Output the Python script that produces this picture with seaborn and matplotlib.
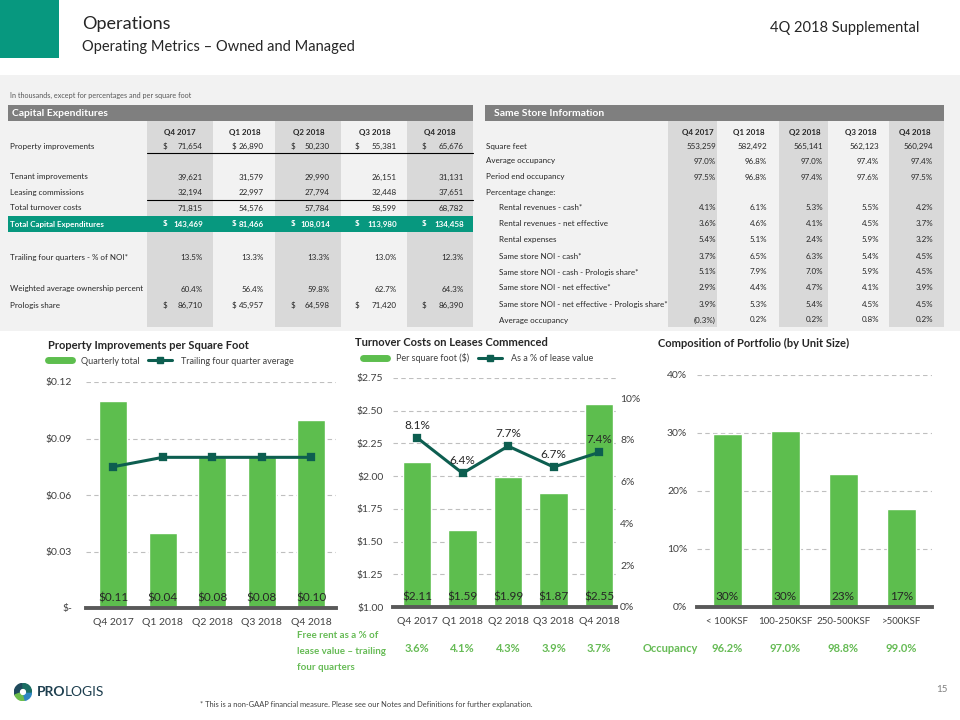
import numpy as np
import pandas as pd
import matplotlib
matplotlib.use("Agg")
import matplotlib.pyplot as plt
import seaborn as sns
from matplotlib.patches import Rectangle, Wedge
from matplotlib.lines import Line2D
import matplotlib.transforms as mtransforms

# ---------------- data ----------------
quarters = ["Q4 2017", "Q1 2018", "Q2 2018", "Q3 2018", "Q4 2018"]

# Capital expenditures table
property_improvements = [71654, 26890, 50230, 55381, 65676]
tenant_improvements = [39621, 31579, 29990, 26151, 31131]
leasing_commissions = [32194, 22997, 27794, 32448, 37651]
total_turnover_costs = [71815, 54576, 57784, 58599, 68782]
total_capex = [143469, 81466, 108014, 113980, 134458]
trailing_noi_pct = [13.5, 13.3, 13.3, 13.0, 12.3]
weighted_ownership_pct = [60.4, 56.4, 59.8, 62.7, 64.3]
prologis_share = [86710, 45957, 64598, 71420, 86390]

# Same store table
square_feet = [553259, 582492, 565141, 562123, 560294]
average_occupancy = [97.0, 96.8, 97.0, 97.4, 97.4]
period_end_occupancy = [97.5, 96.8, 97.4, 97.6, 97.5]
rental_revenues_cash = [4.1, 6.1, 5.3, 5.5, 4.2]
rental_revenues_net = [3.6, 4.6, 4.1, 4.5, 3.7]
rental_expenses = [5.4, 5.1, 2.4, 5.9, 3.2]
noi_cash = [3.7, 6.5, 6.3, 5.4, 4.5]
noi_cash_share = [5.1, 7.9, 7.0, 5.9, 4.5]
noi_net = [2.9, 4.4, 4.7, 4.1, 3.9]
noi_net_share = [3.9, 5.3, 5.4, 4.5, 4.5]
avg_occupancy_change = [-0.3, 0.2, 0.2, 0.8, 0.2]

# Charts
pi_per_sf = [0.11, 0.04, 0.08, 0.08, 0.10]
pi_trailing_avg = [0.075, 0.08, 0.08, 0.08, 0.08]
turnover_per_sf = [2.11, 1.59, 1.99, 1.87, 2.55]
turnover_pct_lease = [8.1, 6.4, 7.7, 6.7, 7.4]
free_rent_pct = [3.6, 4.1, 4.3, 3.9, 3.7]
unit_sizes = ["< 100KSF", "100-250KSF", "250-500KSF", ">500KSF"]
unit_share = [29.9, 30.3, 22.9, 16.9]
unit_occupancy = [96.2, 97.0, 98.8, 99.0]

# ---------------- style ----------------
sns.set_theme(style="white")
plt.rcParams["font.family"] = ["Lato", "DejaVu Sans"]

TEAL = "#07987F"
GREEN = "#5DBE4E"
DARK = "#0D5E50"
TXT_GREEN = "#66BB55"
TXT = "#262626"
TS = 5.8  # table font size

W, H = 960, 720
fig = plt.figure(figsize=(9.6, 7.2), dpi=100)
fig.patch.set_facecolor("white")


def fx(x):
    return x / W


def fy(y):
    return 1 - y / H


def rect(x0, y0, x1, y1, color, z=-5):
    fig.add_artist(Rectangle((fx(x0), fy(y1)), (x1 - x0) / W, (y1 - y0) / H,
                             transform=fig.transFigure, facecolor=color,
                             edgecolor="none", zorder=z))


def hline(x0, x1, y, color="black", lw=0.8, z=-3):
    fig.add_artist(Line2D([fx(x0), fx(x1)], [fy(y), fy(y)], transform=fig.transFigure,
                          color=color, lw=lw, zorder=z))


def txt(x, y, s, size=TS, ha="left", va="center", color=TXT, weight="normal", **kw):
    return fig.text(fx(x), fy(y), s, fontsize=size, ha=ha, va=va, color=color,
                    fontweight=weight, **kw)


def add_ax(x0, y0, x1, y1):
    return fig.add_axes([fx(x0), fy(y1), (x1 - x0) / W, (y1 - y0) / H])


# ---------------- header ----------------
rect(0, 0, 59, 58, TEAL)
txt(82, 24, "Operations", size=13)
txt(82, 47, "Operating Metrics \u2013 Owned and Managed", size=10.5)
txt(919, 28, "4Q 2018 Supplemental", size=10.5, ha="right")

rect(0, 75, 960, 331, "#F2F2F2", z=-10)
txt(10, 95, "In thousands, except for percentages and per square foot", size=5.2,
    color="#595959")

# ---------------- capital expenditures table ----------------
rect(8, 105, 473, 121, "#7F7F7F", z=-4)
txt(12, 113, "Capital Expenditures", size=7.5, color="white", weight="bold")
for a, b in [(147, 213), (275, 341), (407, 473)]:
    rect(a, 121, b, 327, "#D9D9D9", z=-6)
rect(8, 216, 473, 232, TEAL, z=-4)
hline(147, 473, 153)
hline(147, 473, 200)

cx_center = [180, 245, 309, 375, 440]
cx_right = [203, 264, 330, 397, 464]
cx_dollar = [163, 232, 291, 355, 422]
for c, q in zip(cx_center, quarters):
    txt(c, 132, q, ha="center", weight="bold")

capex_rows = [
    (146, "Property improvements", property_improvements, "dollar"),
    (177, "Tenant improvements", tenant_improvements, "num"),
    (192, "Leasing commissions", leasing_commissions, "num"),
    (208, "Total turnover costs", total_turnover_costs, "num"),
    (224, "Total Capital Expenditures", total_capex, "dollar"),
    (257, "Trailing four quarters - % of NOI*", trailing_noi_pct, "pct"),
    (289, "Weighted average ownership percent", weighted_ownership_pct, "pct"),
    (305, "Prologis share", prologis_share, "dollar"),
]
for y, label, vals, kind in capex_rows:
    bold = label.startswith("Total Capital")
    col = "white" if bold else TXT
    wt = "bold" if bold else "normal"
    txt(10, y, label, color=col, weight=wt)
    for i, v in enumerate(vals):
        if kind == "pct":
            s = f"{v:.1f}%"
        else:
            s = f"{v:,.0f}"
        txt(cx_right[i], y, s, ha="right", color=col, weight=wt)
        if kind == "dollar":
            txt(cx_dollar[i], y, "$", ha="left", color=col, weight=wt)

# ---------------- same store table ----------------
rect(485, 105, 944, 121, "#7F7F7F", z=-4)
txt(494, 113, "Same Store Information", size=7.5, color="white", weight="bold")
for a, b in [(668, 717), (779, 828), (889, 944)]:
    rect(a, 121, b, 327, "#D9D9D9", z=-6)
ss_right = [716, 767, 823, 879, 933]
for r, q in zip(ss_right, quarters):
    txt(r - 2, 132, q, ha="right", weight="bold")


def pct_fmt(v):
    return f"({abs(v):.1f}%)" if v < 0 else f"{v:.1f}%"


ss_rows = [
    (146, "Square feet", 0, square_feet, "num"),
    (161, "Average occupancy", 0, average_occupancy, "pct"),
    (177, "Period end occupancy", 0, period_end_occupancy, "pct"),
    (192, "Percentage change:", 0, None, None),
    (208, "Rental revenues - cash*", 1, rental_revenues_cash, "pct"),
    (224, "Rental revenues - net effective", 1, rental_revenues_net, "pct"),
    (240, "Rental expenses", 1, rental_expenses, "pct"),
    (256, "Same store NOI - cash*", 1, noi_cash, "pct"),
    (272, "Same store NOI - cash - Prologis share*", 1, noi_cash_share, "pct"),
    (288, "Same store NOI - net effective*", 1, noi_net, "pct"),
    (304, "Same store NOI - net effective - Prologis share*", 1, noi_net_share, "pct"),
    (320, "Average occupancy", 1, avg_occupancy_change, "pct"),
]
for y, label, ind, vals, kind in ss_rows:
    txt(486 + 13 * ind, y, label)
    if vals is None:
        continue
    for i, v in enumerate(vals):
        s = f"{v:,.0f}" if kind == "num" else pct_fmt(v)
        txt(ss_right[i], y, s, ha="right")


# ---------------- chart helpers ----------------
def style(ax, ylim, ticks, fmt, pad):
    ax.set_ylim(*ylim)
    ax.set_yticks(ticks)
    ax.set_yticklabels([fmt(t) for t in ticks])
    ax.yaxis.grid(True, linestyle=(0, (4, 3)), color="#BFBFBF", lw=0.8)
    ax.xaxis.grid(False)
    ax.set_axisbelow(True)
    for s in ["top", "right", "left"]:
        ax.spines[s].set_visible(False)
    ax.spines["bottom"].set_color("#595959")
    ax.spines["bottom"].set_linewidth(2.8)
    ax.tick_params(axis="both", length=0, labelsize=7.5, labelcolor="#404040")
    ax.tick_params(axis="y", pad=pad)
    ax.tick_params(axis="x", pad=7)
    ax.set_xlabel("")
    ax.set_ylabel("")
    ax.set_facecolor("none")


def legend(ax, x, y, labels):
    handles = [Line2D([], [], color=GREEN, lw=5),
               Line2D([], [], color=DARK, lw=2.2, marker="s", markersize=4)]
    ax.legend(handles, labels, loc="center left", bbox_to_anchor=(fx(x), fy(y)),
              bbox_transform=fig.transFigure, ncol=2, frameon=False, fontsize=6.5,
              handlelength=2.7, handletextpad=1.0, columnspacing=0.9,
              borderpad=0, borderaxespad=0, labelcolor="#404040")


# ---------------- chart 1 ----------------
ax1 = add_ax(86, 382, 336, 608)
sns.barplot(x=quarters, y=pi_per_sf, color=GREEN, saturation=1, width=0.57, ax=ax1)
sns.pointplot(x=quarters, y=pi_trailing_avg, color=DARK, markers="s", markersize=4,
              linewidth=2.2, ax=ax1)
style(ax1, (0, 0.12), [0, 0.03, 0.06, 0.09, 0.12],
      lambda t: "$-" if t == 0 else f"${t:.2f}", 10)
ax1.set_xlim(-0.55, 4.5)
for i, v in enumerate(pi_per_sf):
    ax1.annotate(f"${v:.2f}", xy=(i, 0), xytext=(0, 3.5), textcoords="offset points",
                 ha="center", va="bottom", fontsize=8.5, color=TXT)
txt(48, 345, "Property Improvements per Square Foot", size=8, weight="bold")
legend(ax1, 48, 361, ["Quarterly total", "Trailing four quarter average"])

# ---------------- chart 2 ----------------
ax2 = add_ax(393, 378, 616, 607)
sns.barplot(x=quarters, y=turnover_per_sf, color=GREEN, saturation=1, width=0.63, ax=ax2)
style(ax2, (1.0, 2.75), [1.0, 1.25, 1.5, 1.75, 2.0, 2.25, 2.5, 2.75],
      lambda t: f"${t:.2f}", 7)
ax2r = ax2.twinx()
sns.pointplot(x=quarters, y=turnover_pct_lease, color=DARK, markers="s", markersize=4,
              linewidth=2.2, ax=ax2r)
ax2r.set_ylim(0, 10.96)
ax2r.set_yticks([0, 2, 4, 6, 8, 10])
ax2r.set_yticklabels([f"{t}%" for t in [0, 2, 4, 6, 8, 10]])
ax2r.grid(False)
for s in ax2r.spines.values():
    s.set_visible(False)
ax2r.tick_params(axis="y", length=0, labelsize=7.5, labelcolor="#404040", pad=3)
ax2r.set_ylabel("")
ax2r.set_xlabel("")
ax2.set_xlim(-0.53, 4.37)
ax2r.set_xlim(-0.53, 4.37)
for i, v in enumerate(turnover_per_sf):
    ax2.annotate(f"${v:.2f}", xy=(i, 1.0), xytext=(0, 3.5), textcoords="offset points",
                 ha="center", va="bottom", fontsize=8.5, color=TXT)
for i, v in enumerate(turnover_pct_lease):
    ax2r.annotate(f"{v:.1f}%", xy=(i, v), xytext=(0, 5), textcoords="offset points",
                  ha="center", va="bottom", fontsize=8.5, color=TXT)
txt(355, 343, "Turnover Costs on Leases Commenced", size=8, weight="bold")
legend(ax2, 363, 358, ["Per square foot ($)", "As a % of lease value"])

tr2 = mtransforms.blended_transform_factory(ax2.transData, fig.transFigure)
for i, v in enumerate(free_rent_pct):
    ax2.text(i, fy(648), f"{v:.1f}%", transform=tr2, ha="center", va="center",
             fontsize=8, color=TXT_GREEN, fontweight="bold")
for y, line in zip([636, 652, 667], ["Free rent as a % of", "lease value \u2013 trailing",
                                     "four quarters"]):
    txt(297, y, line, size=7, color=TXT_GREEN, weight="bold")

# ---------------- chart 3 ----------------
ax3 = add_ax(697, 375, 932, 607)
sns.barplot(x=unit_sizes, y=unit_share, color=GREEN, saturation=1, width=0.5, ax=ax3)
style(ax3, (0, 40), [0, 10, 20, 30, 40], lambda t: f"{t:.0f}%", 7)
ax3.tick_params(axis="x", labelsize=7)
ax3.set_xlim(-0.52, 3.53)
for i, v in enumerate(unit_share):
    ax3.annotate(f"{v:.0f}%", xy=(i, 0), xytext=(0, 3.5), textcoords="offset points",
                 ha="center", va="bottom", fontsize=8.5, color=TXT)
txt(658, 343, "Composition of Portfolio (by Unit Size)", size=8, weight="bold")
tr3 = mtransforms.blended_transform_factory(ax3.transData, fig.transFigure)
for i, v in enumerate(unit_occupancy):
    ax3.text(i, fy(648), f"{v:.1f}%", transform=tr3, ha="center", va="center",
             fontsize=8, color=TXT_GREEN, fontweight="bold")
txt(643, 648, "Occupancy", size=8, color=TXT_GREEN, weight="bold")

# ---------------- footer ----------------
axl = add_ax(14, 683, 32, 701)
axl.set_xlim(-1.05, 1.05)
axl.set_ylim(-1.05, 1.05)
axl.set_aspect("equal")
axl.axis("off")
for t1, t2, c in [(95, 200, "#1F4A5C"), (200, 280, "#6DBE4B"), (285, 360, "#2E86C1"),
                  (0, 90, "#1B6E63")]:
    axl.add_patch(Wedge((0, 0), 1.0, t1, t2, width=0.55, color=c))
t_pro = axl.annotate("PRO", xy=(1.25, 0.5), xycoords="axes fraction", ha="left",
                     va="center", fontsize=10, fontweight="bold", color="#1E3F4F",
                     annotation_clip=False)
axl.annotate("LOGIS", xy=(1, 0.5), xycoords=t_pro, ha="left", va="center", fontsize=10,
             color="#1E3F4F", annotation_clip=False)
txt(948, 690, "15", size=7, ha="right", color="#7F7F7F")
txt(200, 705, "* This is a non-GAAP financial measure. Please see our Notes and Definitions "
              "for further explanation.", size=5.4, color="#404040")

fig.savefig("out.png", dpi=100)
